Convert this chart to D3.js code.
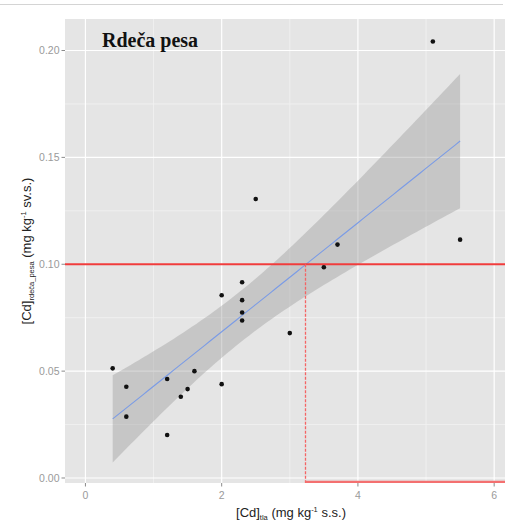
<!DOCTYPE html>
<html>
<head>
<meta charset="utf-8">
<script src="https://cdn.jsdelivr.net/npm/d3@7"></script>
<style>
  html, body { margin: 0; padding: 0; background: #fff; }
  svg { display: block; }
</style>
</head>
<body>
<svg id="chart" width="505" height="523"></svg>
<script>
// ---- data ----
const soilCd = [0.4, 0.6, 0.6, 1.2, 1.2, 1.4, 1.5, 1.6, 2.0, 2.0, 2.3, 2.3, 2.3, 2.3, 2.5, 3.0, 3.5, 3.7, 5.1, 5.5];
const beetCd = [0.0513, 0.0427, 0.0287, 0.0463, 0.0201, 0.0380, 0.0416, 0.0500, 0.0439, 0.0855, 0.0916, 0.0832, 0.0774, 0.0737, 0.1305, 0.0678, 0.0986, 0.1092, 0.2042, 0.1115];
const xTicks = [0, 2, 4, 6];
const xMinorTicks = [1, 3, 5];
const yTicks = [0.00, 0.05, 0.10, 0.15, 0.20];
const yMinorTicks = [0.025, 0.075, 0.125, 0.175];
const xLimits = [-0.3, 6.3];
const yLimits = [-0.00234, 0.21474];
const limitValue = [0.10];      // legal limit for Cd in beetroot
const soilAtLimit = [3.23];     // soil Cd where fit reaches limit
const titleText = "Rdeča pesa";
const tCrit = 2.100922;         // t(0.975, df = 18)

// ---- layout ----
const svg = d3.select("#chart");
const panel = { left: 65, top: 19, right: 514.6, bottom: 483 };

const x = d3.scaleLinear().domain(xLimits).range([panel.left, panel.right]);
const y = d3.scaleLinear().domain(yLimits).range([panel.bottom, panel.top]);

// top rule
svg.append("line").attr("x1", 0).attr("x2", 503).attr("y1", 4.5).attr("y2", 4.5)
  .attr("stroke", "#d4d4d4").attr("stroke-width", 1);

svg.append("defs").append("clipPath").attr("id", "clip")
  .append("rect").attr("x", panel.left).attr("y", panel.top)
  .attr("width", panel.right - panel.left).attr("height", panel.bottom - panel.top);

// panel background
svg.append("rect").attr("x", panel.left).attr("y", panel.top)
  .attr("width", panel.right - panel.left).attr("height", panel.bottom - panel.top)
  .attr("fill", "#E5E5E5");

const g = svg.append("g").attr("clip-path", "url(#clip)");

// minor grid
g.selectAll(".xminor").data(xMinorTicks).join("line")
  .attr("x1", d => x(d)).attr("x2", d => x(d)).attr("y1", panel.top).attr("y2", panel.bottom)
  .attr("stroke", "#F2F2F2").attr("stroke-width", 0.8);
g.selectAll(".yminor").data(yMinorTicks).join("line")
  .attr("y1", d => y(d)).attr("y2", d => y(d)).attr("x1", panel.left).attr("x2", panel.right)
  .attr("stroke", "#F2F2F2").attr("stroke-width", 0.8);
// major grid
g.selectAll(".xmajor").data(xTicks).join("line")
  .attr("x1", d => x(d)).attr("x2", d => x(d)).attr("y1", panel.top).attr("y2", panel.bottom)
  .attr("stroke", "#FFFFFF").attr("stroke-width", 1.2);
g.selectAll(".ymajor").data(yTicks).join("line")
  .attr("y1", d => y(d)).attr("y2", d => y(d)).attr("x1", panel.left).attr("x2", panel.right)
  .attr("stroke", "#FFFFFF").attr("stroke-width", 1.2);

// ---- linear model with 95% confidence band ----
const n = soilCd.length;
const mx = d3.mean(soilCd), my = d3.mean(beetCd);
let sxx = 0, sxy = 0;
for (let i = 0; i < n; i++) { sxx += (soilCd[i] - mx) ** 2; sxy += (soilCd[i] - mx) * (beetCd[i] - my); }
const slope = sxy / sxx, intercept = my - slope * mx;
let sse = 0;
for (let i = 0; i < n; i++) sse += (beetCd[i] - (intercept + slope * soilCd[i])) ** 2;
const s = Math.sqrt(sse / (n - 2));
const [xlo, xhi] = d3.extent(soilCd);
const fit = d3.range(80).map(i => {
  const xv = xlo + (xhi - xlo) * i / 79;
  const yv = intercept + slope * xv;
  const se = s * Math.sqrt(1 / n + (xv - mx) ** 2 / sxx);
  return { x: xv, y: yv, lo: yv - tCrit * se, hi: yv + tCrit * se };
});

g.append("path").datum(fit)
  .attr("d", d3.area().x(d => x(d.x)).y0(d => y(d.lo)).y1(d => y(d.hi)))
  .attr("fill", "#999999").attr("fill-opacity", 0.4);
g.append("path").datum(fit)
  .attr("d", d3.line().x(d => x(d.x)).y(d => y(d.y)))
  .attr("fill", "none").attr("stroke", "#7a9be6").attr("stroke-width", 1.1);

// reference lines
g.selectAll(".hlimit").data(limitValue).join("line")
  .attr("x1", panel.left).attr("x2", panel.right).attr("y1", d => y(d)).attr("y2", d => y(d))
  .attr("stroke", "#f03c3c").attr("stroke-width", 1.8);
g.selectAll(".vlimit").data(soilAtLimit).join("line")
  .attr("x1", d => Math.round(x(d)) + 0.5).attr("x2", d => Math.round(x(d)) + 0.5)
  .attr("y1", y(limitValue[0])).attr("y2", panel.bottom)
  .attr("stroke", "#f46464").attr("stroke-width", 1.3).attr("stroke-dasharray", "3,1.5");
g.selectAll(".blimit").data(soilAtLimit).join("line")
  .attr("x1", d => x(d)).attr("x2", panel.right).attr("y1", panel.bottom - 0.8).attr("y2", panel.bottom - 0.8)
  .attr("stroke", "#f47070").attr("stroke-width", 3);

// points
g.selectAll(".pt").data(soilCd.map((d, i) => [d, beetCd[i]])).join("circle")
  .attr("cx", d => x(d[0])).attr("cy", d => y(d[1])).attr("r", 2.3).attr("fill", "#111");

// title inside panel
svg.append("text").attr("x", 102).attr("y", 47)
  .attr("font-family", "Liberation Serif, 'Times New Roman', serif")
  .attr("font-size", 20).attr("font-weight", "bold").attr("fill", "#111")
  .text(titleText);

// axes ticks + labels
const axisCol = "#8a8a8a";
svg.selectAll(".ytick").data(yTicks).join("line")
  .attr("x1", panel.left - 3.5).attr("x2", panel.left).attr("y1", d => y(d)).attr("y2", d => y(d))
  .attr("stroke", axisCol).attr("stroke-width", 1);
svg.selectAll(".ylab").data(yTicks).join("text")
  .attr("x", panel.left - 5.5).attr("y", d => y(d)).attr("dy", "0.35em")
  .attr("text-anchor", "end").attr("font-family", "Liberation Sans, Arial, sans-serif")
  .attr("font-size", 10.5).attr("fill", "#9a9a9a")
  .text(d => d3.format(".2f")(d));
svg.selectAll(".xtick").data(xTicks).join("line")
  .attr("x1", d => x(d)).attr("x2", d => x(d)).attr("y1", panel.bottom).attr("y2", panel.bottom + 3.5)
  .attr("stroke", axisCol).attr("stroke-width", 1);
svg.selectAll(".xlab").data(xTicks).join("text")
  .attr("x", d => x(d)).attr("y", panel.bottom + 16)
  .attr("text-anchor", "middle").attr("font-family", "Liberation Sans, Arial, sans-serif")
  .attr("font-size", 10.5).attr("fill", "#9a9a9a")
  .text(d => d);

// axis titles
function richTitle(sel, main, sub, rest) {
  sel.append("tspan").text(main);
  sel.append("tspan").attr("font-size", 7.5).attr("dy", 2.5).text(sub);
  sel.append("tspan").attr("dy", -2.5).text(" (mg kg");
  sel.append("tspan").attr("font-size", 7.5).attr("dy", -5).text("-1");
  sel.append("tspan").attr("dy", 5).text(rest);
}
const xt = svg.append("text").attr("x", 291).attr("y", 517).attr("text-anchor", "middle")
  .attr("font-family", "Liberation Sans, Arial, sans-serif").attr("font-size", 13).attr("fill", "#222");
richTitle(xt, "[Cd]", "tla", " s.s.)");
const yt = svg.append("text").attr("transform", `translate(31,${(panel.top + panel.bottom) / 2}) rotate(-90)`)
  .attr("text-anchor", "middle")
  .attr("font-family", "Liberation Sans, Arial, sans-serif").attr("font-size", 13).attr("fill", "#222");
richTitle(yt, "[Cd]", "rdeča_pesa", " sv.s.)");
</script>
</body>
</html>
